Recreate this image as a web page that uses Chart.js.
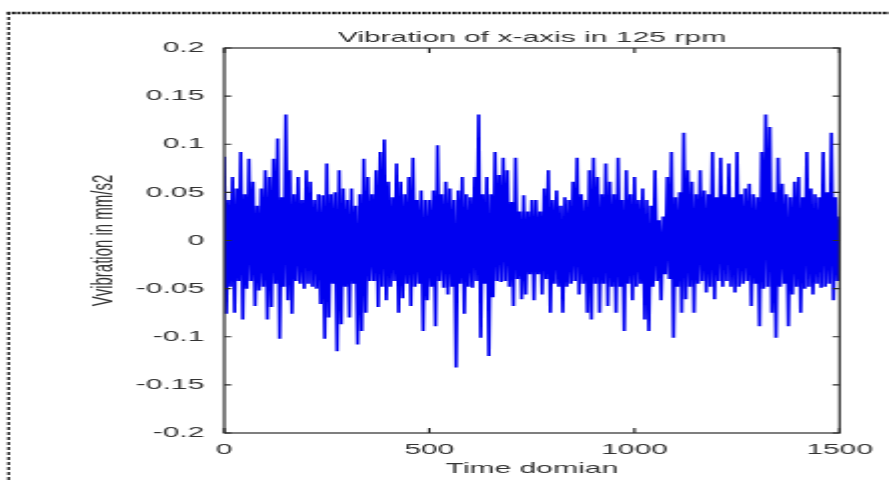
<!DOCTYPE html>
<html>
<head>
<meta charset="utf-8">
<script src="https://cdn.jsdelivr.net/npm/chart.js@4.4.1/dist/chart.umd.min.js"></script>
<style>
html, body { margin: 0; padding: 0; background: #fff; overflow: hidden; }
/* the source figure was stretched sideways, so the canvas is drawn narrow and scaled */
#stage { position: absolute; left: 0; top: 0; width: 444px; height: 482px; transform: scaleX(2.00225); transform-origin: 0 0; }
</style>
</head>
<body>
<div id="stage"><canvas id="vibChart" width="444" height="482"></canvas></div>
<script>
const titleText = "Vibration of x-axis in 125 rpm";
const xTitle = "Time domian";
const yTitle = "Vvibration in mm/s2";

const sampleStep = 5; // one value every 5 samples, 0..1500
const vibration = [
    0.087, -0.076, 0.042, -0.048, 0.066, -0.075, 0.054, -0.042, 0.092, -0.082,
    0.048, -0.050, 0.085, -0.042, 0.061, -0.068, 0.036, -0.052, 0.054, -0.048,
    0.073, -0.082, 0.066, -0.069, 0.085, -0.045, 0.106, -0.102, 0.045, -0.048,
    0.131, -0.062, 0.073, -0.076, 0.048, -0.042, 0.066, -0.045, 0.042, -0.050,
    0.073, -0.045, 0.061, -0.048, 0.042, -0.050, 0.048, -0.066, 0.047, -0.102,
    0.080, -0.080, 0.048, -0.045, 0.050, -0.115, 0.073, -0.087, 0.054, -0.048,
    0.042, -0.080, 0.054, -0.045, 0.036, -0.108, 0.048, -0.094, 0.085, -0.075,
    0.066, -0.042, 0.048, -0.042, 0.073, -0.069, 0.092, -0.048, 0.105, -0.062,
    0.061, -0.048, 0.045, -0.042, 0.080, -0.075, 0.061, -0.060, 0.048, -0.045,
    0.066, -0.068, 0.086, -0.048, 0.042, -0.045, 0.052, -0.094, 0.042, -0.062,
    0.042, -0.048, 0.052, -0.089, 0.099, -0.042, 0.048, -0.049, 0.061, -0.056,
    0.054, -0.048, 0.042, -0.132, 0.052, -0.045, 0.066, -0.076, 0.048, -0.048,
    0.045, -0.049, 0.066, -0.042, 0.131, -0.101, 0.048, -0.045, 0.066, -0.120,
    0.048, -0.059, 0.092, -0.042, 0.068, -0.043, 0.086, -0.042, 0.073, -0.048,
    0.040, -0.068, 0.086, -0.040, 0.030, -0.061, 0.047, -0.056, 0.030, -0.035,
    0.042, -0.062, 0.042, -0.035, 0.030, -0.056, 0.054, -0.040, 0.073, -0.075,
    0.042, -0.045, 0.052, -0.048, 0.036, -0.075, 0.045, -0.048, 0.042, -0.045,
    0.061, -0.042, 0.086, -0.056, 0.048, -0.045, 0.042, -0.075, 0.073, -0.082,
    0.086, -0.045, 0.066, -0.075, 0.048, -0.045, 0.080, -0.068, 0.061, -0.048,
    0.048, -0.075, 0.086, -0.048, 0.042, -0.094, 0.073, -0.045, 0.048, -0.062,
    0.066, -0.048, 0.042, -0.045, 0.054, -0.082, 0.042, -0.094, 0.036, -0.048,
    0.073, -0.042, 0.021, -0.062, 0.025, -0.035, 0.066, -0.040, 0.092, -0.101,
    0.045, -0.048, 0.050, -0.075, 0.112, -0.061, 0.073, -0.048, 0.061, -0.075,
    0.048, -0.045, 0.073, -0.042, 0.052, -0.054, 0.048, -0.048, 0.092, -0.061,
    0.045, -0.042, 0.086, -0.048, 0.048, -0.042, 0.080, -0.048, 0.045, -0.054,
    0.092, -0.048, 0.048, -0.045, 0.054, -0.042, 0.059, -0.068, 0.048, -0.045,
    0.045, -0.089, 0.092, -0.050, 0.131, -0.048, 0.118, -0.075, 0.050, -0.101,
    0.086, -0.048, 0.059, -0.045, 0.048, -0.089, 0.045, -0.056, 0.061, -0.048,
    0.066, -0.075, 0.045, -0.050, 0.092, -0.048, 0.054, -0.056, 0.048, -0.045,
    0.045, -0.049, 0.092, -0.048, 0.050, -0.045, 0.112, -0.062, 0.045, -0.042,
    0.025
];

const xTicks = [0, 500, 1000, 1500];
const xTickLabels = ["0", "500", "1000", "1500"];
const yTicks = [-0.2, -0.15, -0.1, -0.05, 0, 0.05, 0.1, 0.15, 0.2];
const yTickLabels = ["-0.2", "-0.15", "-0.1", "-0.05", "0", "0.05", "0.1", "0.15", "0.2"];

const textColor = "#333";
const axisColor = "#2b2b2b";
const font = { family: "'Liberation Sans', Arial, sans-serif", size: 15, weight: "normal" };

// dashed frame of the pasted figure (top and left edges)
const pageFrame = {
    id: "pageFrame",
    beforeDraw(chart) {
        const ctx = chart.ctx;
        ctx.save();
        ctx.strokeStyle = "#111";
        ctx.lineWidth = 2.5;
        ctx.setLineDash([1.75, 0.75]);
        ctx.beginPath();
        ctx.moveTo(3.5, 13);
        ctx.lineTo(444, 13);
        ctx.stroke();
        ctx.lineWidth = 1.25;
        ctx.setLineDash([3, 2]);
        ctx.beginPath();
        ctx.moveTo(4.3, 12);
        ctx.lineTo(4.3, 482);
        ctx.stroke();
        ctx.restore();
    }
};

// matlab style box with inward ticks on all four sides
const axesBox = {
    id: "axesBox",
    afterDatasetsDraw(chart) {
        const { ctx, chartArea: a, scales: { x, y } } = chart;
        ctx.save();
        ctx.strokeStyle = axisColor;
        ctx.lineWidth = 1.2;
        ctx.strokeRect(a.left, a.top, a.right - a.left, a.bottom - a.top);
        ctx.beginPath();
        x.ticks.forEach(function (t) {
            const px = x.getPixelForValue(t.value);
            ctx.moveTo(px, a.bottom);
            ctx.lineTo(px, a.bottom - 5);
            ctx.moveTo(px, a.top);
            ctx.lineTo(px, a.top + 5);
        });
        y.ticks.forEach(function (t) {
            const py = y.getPixelForValue(t.value);
            ctx.moveTo(a.left, py);
            ctx.lineTo(a.left + 3.5, py);
            ctx.moveTo(a.right, py);
            ctx.lineTo(a.right - 3.5, py);
        });
        ctx.stroke();
        ctx.restore();
    }
};

function tickLabel(list, labels, value) {
    const i = list.findIndex(t => Math.abs(t - value) < 1e-9);
    return i < 0 ? "" : labels[i];
}

new Chart(document.getElementById("vibChart"), {
    type: "line",
    data: {
        datasets: [{
            data: vibration.map((v, i) => ({ x: i * sampleStep, y: v })),
            borderColor: "#0000f0",
            borderWidth: 1.7,
            pointRadius: 0,
            tension: 0,
            fill: false
        }]
    },
    options: {
        responsive: false,
        animation: false,
        devicePixelRatio: 1,
        layout: { padding: { left: 0, right: 24, top: 0, bottom: 0 } },
        plugins: {
            legend: { display: false },
            tooltip: { enabled: false },
            title: {
                display: true,
                text: titleText,
                fullSize: false,
                color: textColor,
                font: font,
                padding: { top: 29, bottom: 1 }
            }
        },
        scales: {
            x: {
                type: "linear",
                min: 0,
                max: 1500,
                grid: { display: false, drawTicks: false },
                border: { display: false },
                ticks: {
                    stepSize: 500,
                    padding: 8,
                    color: textColor,
                    font: font,
                    maxRotation: 0,
                    autoSkip: false,
                    callback: v => tickLabel(xTicks, xTickLabels, v)
                },
                title: { display: true, text: xTitle, color: textColor, font: font, padding: { top: 0, bottom: 4 } },
                afterFit: s => { s.height = 49; }
            },
            y: {
                min: -0.2,
                max: 0.2,
                grid: { display: false, drawTicks: false },
                border: { display: false },
                ticks: {
                    stepSize: 0.05,
                    padding: 10,
                    color: textColor,
                    font: font,
                    callback: v => tickLabel(yTicks, yTickLabels, v)
                },
                title: { display: true, text: yTitle, color: textColor, font: font, padding: { top: 42.4, bottom: 0 } },
                afterFit: s => { s.width = 112; }
            }
        }
    },
    plugins: [pageFrame, axesBox]
});
</script>
</body>
</html>
